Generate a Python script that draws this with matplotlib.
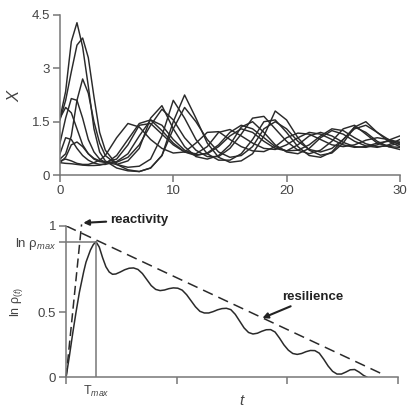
import matplotlib
matplotlib.use("Agg")
import matplotlib.pyplot as plt

plt.rcParams['font.family'] = ['Liberation Sans', 'DejaVu Sans']
plt.rcParams['mathtext.fontset'] = 'custom'
plt.rcParams['mathtext.rm'] = 'Liberation Sans'
plt.rcParams['mathtext.it'] = 'Liberation Sans:italic'

# ---- top panel: trajectories X(t) ----
t_grid = [0, 0.5, 1, 1.5, 2, 2.5, 3, 3.5, 4] + list(range(5, 31))

traj_1 = [1.6, 2.35, 3.75, 4.28, 3.6, 2.5, 1.3, 0.65, 0.4,
          0.2, 0.12, 0.1, 0.2, 0.55, 1.5, 2.25, 1.6, 0.9, 0.5, 0.36, 0.4, 0.6, 1.1,
          1.8, 1.55, 1.05, 0.7, 0.56, 0.62, 0.9, 1.35, 1.5, 1.2, 0.95, 0.8]
traj_2 = [1.55, 2.1, 2.9, 3.65, 3.85, 3.3, 2.2, 1.2, 0.7,
          0.3, 0.15, 0.1, 0.2, 0.55, 1.3, 1.9, 1.5, 1.0, 0.65, 0.5, 0.55, 0.8, 1.3,
          1.5, 1.3, 0.95, 0.72, 0.65, 0.75, 1.0, 1.3, 1.4, 1.2, 1.0, 0.85]
traj_3 = [0.45, 0.6, 1.1, 2.1, 2.7, 2.3, 1.5, 0.9, 0.55,
          0.3, 0.22, 0.25, 0.45, 1.1, 2.1, 1.6, 1.0, 0.6, 0.42, 0.42, 0.6, 1.0, 1.5,
          1.55, 1.2, 0.8, 0.55, 0.5, 0.65, 1.0, 1.35, 1.2, 0.95, 0.8, 0.72]
traj_4 = [0.9, 1.6, 2.15, 2.1, 1.6, 1.0, 0.65, 0.45, 0.36,
          0.3, 0.4, 0.75, 1.6, 1.95, 1.3, 0.8, 0.52, 0.45, 0.55, 0.85, 1.35, 1.5, 1.2,
          0.85, 0.65, 0.6, 0.75, 1.05, 1.25, 1.15, 0.95, 0.82, 0.78, 0.85, 1.0]
traj_5 = [1.6, 1.9, 1.75, 1.3, 0.85, 0.6, 0.47, 0.4, 0.36,
          0.36, 0.5, 0.85, 1.4, 1.85, 1.55, 1.05, 0.7, 0.52, 0.52, 0.75, 1.15, 1.6, 1.65,
          1.3, 0.95, 0.7, 0.6, 0.7, 0.95, 1.3, 1.4, 1.15, 0.9, 0.8, 0.78]
traj_6 = [0.6, 1.05, 1.0, 0.75, 0.55, 0.42, 0.34, 0.3, 0.3,
          0.38, 0.6, 1.1, 1.55, 1.4, 1.0, 0.7, 0.57, 0.6, 0.8, 1.1, 1.3, 1.2, 0.95,
          0.75, 0.68, 0.85, 1.1, 1.2, 1.1, 0.92, 0.8, 0.78, 0.85, 0.98, 1.1]
traj_7 = [0.35, 0.5, 0.85, 0.93, 0.8, 0.6, 0.45, 0.38, 0.36,
          0.45, 0.85, 1.4, 1.45, 1.15, 0.85, 0.65, 0.6, 0.8, 1.2, 1.28, 1.1, 0.9, 0.75,
          0.72, 0.85, 1.05, 1.2, 1.15, 1.0, 0.85, 0.78, 0.8, 0.9, 0.95, 0.92]
traj_8 = [0.4, 0.45, 0.4, 0.33, 0.3, 0.3, 0.35, 0.42, 0.55,
          1.05, 1.45, 1.35, 1.0, 0.75, 0.62, 0.65, 0.9, 1.2, 1.22, 1.0, 0.8, 0.68, 0.66,
          0.8, 1.05, 1.18, 1.15, 1.0, 0.85, 0.8, 0.85, 0.98, 1.05, 1.0, 0.92]
traj_9 = [0.35, 0.33, 0.32, 0.3, 0.28, 0.27, 0.27, 0.28, 0.32,
          0.55, 1.0, 1.45, 1.55, 1.25, 0.9, 0.65, 0.55, 0.62, 0.85, 1.2, 1.4, 1.3, 1.05,
          0.8, 0.68, 0.7, 0.85, 1.1, 1.3, 1.25, 1.05, 0.88, 0.8, 0.82, 0.9]
trajectories = [traj_1, traj_2, traj_3, traj_4, traj_5, traj_6, traj_7, traj_8, traj_9]

top_xticks = [0, 10, 20, 30]
top_yticks = [0, 1.5, 3, 4.5]
top_yticklabels = ['0', '1.5', '3', '4.5']

# ---- bottom panel: amplification envelope ----
rho_t = [0, 0.03, 0.06, 0.09, 0.12, 0.14, 0.16, 0.18, 0.2, 0.22, 0.245, 0.27,
         0.30, 0.33, 0.36, 0.39, 0.42, 0.45, 0.49, 0.53, 0.57, 0.61, 0.65, 0.69,
         0.73, 0.77, 0.81, 0.85, 0.89, 0.93, 0.97, 1.01, 1.05, 1.09, 1.13, 1.17,
         1.21, 1.25, 1.29, 1.33, 1.37, 1.41, 1.45, 1.49, 1.53, 1.57, 1.61, 1.65,
         1.69, 1.73, 1.77, 1.81, 1.85, 1.89, 1.93, 1.97, 2.01, 2.05, 2.09, 2.13,
         2.17, 2.21, 2.25, 2.29, 2.33, 2.37, 2.41, 2.45, 2.49, 2.53, 2.57, 2.61,
         2.65, 2.69, 2.72]
rho_val = [0, 0.14, 0.29, 0.43, 0.56, 0.63, 0.7, 0.76, 0.8, 0.84, 0.875, 0.896,
           0.86, 0.79, 0.73, 0.695, 0.68, 0.682, 0.695, 0.71, 0.72, 0.722, 0.712, 0.685,
           0.645, 0.605, 0.58, 0.572, 0.576, 0.585, 0.59, 0.588, 0.575, 0.545, 0.505, 0.465,
           0.435, 0.424, 0.424, 0.433, 0.445, 0.453, 0.455, 0.446, 0.415, 0.37, 0.325, 0.295,
           0.285, 0.29, 0.303, 0.313, 0.314, 0.298, 0.258, 0.213, 0.178, 0.156, 0.15, 0.156,
           0.168, 0.176, 0.175, 0.158, 0.118, 0.073, 0.038, 0.02, 0.02, 0.033, 0.048, 0.05,
           0.033, 0.011, 0.0]
t_max = 0.27
ln_rho_max = 0.896
reactivity_t = [0, 0.14]
reactivity_val = [0, 1.01]
resilience_t = [0, 2.86]
resilience_val = [1.0, 0.02]
bottom_yticks = [0, 0.43, ln_rho_max, 1]
bottom_yticklabels = ['0', '0.5', r'ln ρ$_{max}$', '1']
bottom_xticks = [0, 1, 2, 3]

line_col = '#2a2a2a'
axis_col = '#777777'
label_col = '#444444'

fig = plt.figure(figsize=(4.08, 4.13), dpi=100)

ax1 = fig.add_axes([0.147, 0.576, 0.833, 0.388])
for traj in trajectories:
    ax1.plot(t_grid, traj, color=line_col, lw=1.05)
ax1.set_xlim(0, 30)
ax1.set_ylim(0, 4.5)
ax1.set_xticks(top_xticks)
ax1.set_yticks(top_yticks)
ax1.set_yticklabels(top_yticklabels)
ax1.set_ylabel('$X$', fontsize=12, color=label_col)
ax1.yaxis.set_label_coords(-0.113, 0.5)

ax2 = fig.add_axes([0.162, 0.087, 0.813, 0.366])
ax2.plot(rho_t, rho_val, color=line_col, lw=1.1)
ax2.plot(reactivity_t, reactivity_val, color=line_col, lw=1.1, dashes=(6, 3), clip_on=False)
ax2.plot(resilience_t, resilience_val, color=line_col, lw=1.1, dashes=(7, 4))
ax2.plot([0, t_max], [ln_rho_max, ln_rho_max], color=axis_col, lw=1.1)
ax2.plot([t_max, t_max], [0, ln_rho_max], color=axis_col, lw=1.1)
ax2.set_xlim(0, 3)
ax2.set_ylim(0, 1)
ax2.set_xticks(bottom_xticks)
ax2.set_xticklabels([])
ax2.set_yticks(bottom_yticks)
ax2.set_yticklabels(bottom_yticklabels)
ax2.set_ylabel(r'ln ρ$_{(t)}$', fontsize=9, color=label_col)
ax2.yaxis.set_label_coords(-0.125, 0.5)
ax2.set_xlabel('$t$', fontsize=11, color=label_col)
ax2.xaxis.set_label_coords(0.53, -0.11)
ax2.text(t_max, -0.045, r'T$_{max}$', ha='center', va='top', fontsize=9,
         color=label_col, transform=ax2.transData)

arrow = dict(arrowstyle='-|>', color='#222222', lw=1.5, mutation_scale=8,
             shrinkA=1, shrinkB=0)
ax2.annotate('reactivity', xy=(0.155, 1.02), xytext=(0.40, 1.04),
             fontsize=9.5, fontweight='bold', va='center', ha='left', color='#222222',
             arrowprops=arrow, annotation_clip=False)
ax2.annotate('resilience', xy=(1.775, 0.39), xytext=(1.955, 0.53),
             fontsize=9.5, fontweight='bold', va='center', ha='left', color='#222222',
             arrowprops=arrow)

for ax in (ax1, ax2):
    for side in ('top', 'right'):
        ax.spines[side].set_visible(False)
    for side in ('left', 'bottom'):
        ax.spines[side].set_color(axis_col)
        ax.spines[side].set_linewidth(1.1)
    ax.tick_params(direction='out', length=5, width=1.1, color=axis_col,
                   labelsize=9.5, labelcolor=label_col, pad=2)

plt.savefig('out.png', dpi=100)
plt.close()
